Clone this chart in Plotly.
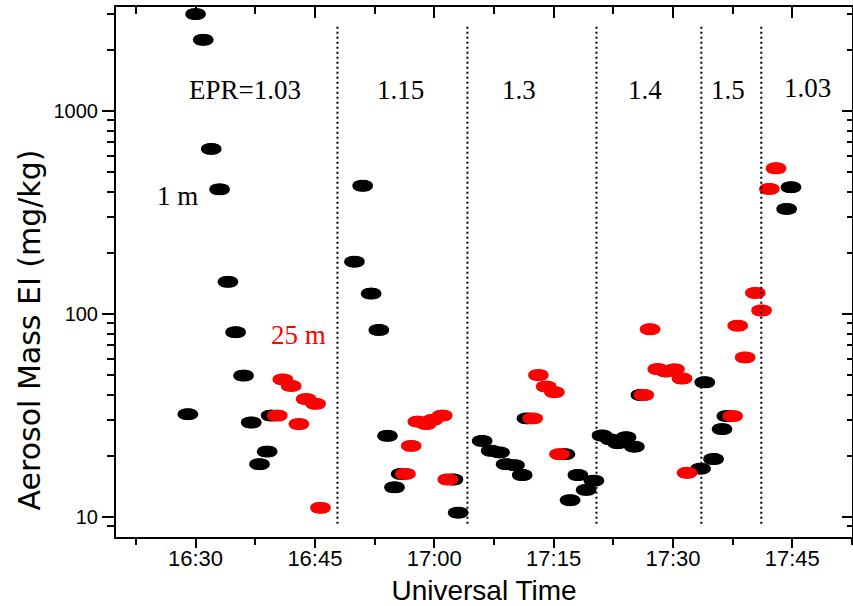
import math
import pandas as pd
import plotly.graph_objects as go

DAY = "2000-01-01 "

# ---- data ----
black_time = ["16:29:02", "16:30:00", "16:30:58", "16:31:58", "16:33:01", "16:34:04",
              "16:35:02", "16:36:02", "16:37:00", "16:38:02", "16:39:00", "16:39:30",
              "16:49:58", "16:51:00", "16:52:04", "16:53:02", "16:54:07", "16:55:00",
              "16:55:50", "17:02:21", "17:03:00",
              "17:06:01", "17:07:09", "17:08:12", "17:09:02", "17:10:05", "17:11:03",
              "17:11:39", "17:16:25", "17:17:04", "17:18:03", "17:19:05", "17:20:04",
              "17:21:05", "17:22:08", "17:23:03", "17:24:06", "17:25:09", "17:25:58",
              "17:33:28", "17:34:00", "17:35:06", "17:36:10", "17:36:46",
              "17:44:17", "17:44:50"]
black_value = [32.1, 3000, 2240, 650, 411, 144,
               81.3, 49.7, 29.2, 18.2, 21.0, 31.6,
               181, 428, 126, 83.4, 25.1, 14.0,
               16.3, 15.3, 10.5,
               23.7, 21.2, 20.8, 18.2, 18.0, 16.1,
               30.6, 20.4, 12.1, 16.1, 13.6, 15.1,
               25.2, 24.1, 23.1, 24.7, 22.2, 39.9,
               17.3, 46.1, 19.3, 27.1, 31.4,
               329, 421]

red_time = ["16:40:16", "16:40:58", "16:42:01", "16:42:59", "16:43:54", "16:45:05", "16:45:42",
            "16:56:23", "16:57:06", "16:57:56", "16:58:59", "16:59:49", "17:01:00", "17:01:42",
            "17:12:22", "17:13:05", "17:14:04", "17:15:06", "17:15:44",
            "17:26:20", "17:27:07", "17:28:05", "17:29:08", "17:30:11", "17:31:08", "17:31:46",
            "17:37:30", "17:38:08", "17:39:04", "17:40:21", "17:41:08", "17:42:07", "17:42:57"]
red_value = [31.6, 47.6, 44.2, 28.7, 38.1, 36.1, 11.1,
             16.3, 22.4, 29.5, 28.7, 30.1, 31.6, 15.3,
             30.6, 50.0, 43.9, 41.2, 20.4,
             39.9, 84.1, 53.5, 52.0, 53.4, 48.1, 16.5,
             31.4, 87.6, 61.1, 127, 104, 413, 522]

epr_boundaries = ["16:47:50", "17:04:10", "17:20:23", "17:33:34", "17:41:06"]
boundary_span = [9.25, 2620]
epr_labels = ["EPR=1.03", "1.15", "1.3", "1.4", "1.5", "1.03"]
height_labels = ["1 m", "25 m"]

x_range = [DAY + "16:20:00", DAY + "17:52:30"]
y_range_values = [7.97, 3250]
major_y = [10, 100, 1000]
minor_y = [9, 20, 30, 40, 50, 60, 70, 80, 90, 200, 300, 400, 500, 600, 700, 800, 900, 2000, 3000]

# ---- figure ----
yr = [math.log10(v) for v in y_range_values]


def ts(lst):
    return pd.to_datetime([DAY + t for t in lst])


fig = go.Figure()
# each elliptic marker is built from overlapping circles shifted along time
ellipse_parts = [(0, 12), (-15, 11.8), (15, 11.8), (-30, 11), (30, 11),
                 (-44, 9), (44, 9)]
for times, values, color in [(black_time, black_value, "#000000"),
                             (red_time, red_value, "#ff0000")]:
    base = ts(times)
    for sec, size in ellipse_parts:
        fig.add_trace(go.Scatter(
            x=base + pd.Timedelta(seconds=sec), y=values, mode="markers",
            marker=dict(symbol="circle", size=size, color=color, line=dict(width=0)),
            showlegend=False, hoverinfo="skip"))

bx, by = [], []
for b in epr_boundaries:
    bx += [DAY + b, DAY + b, None]
    by += [boundary_span[0], boundary_span[1], None]
fig.add_trace(go.Scatter(x=bx, y=by, mode="lines", xaxis="x2", yaxis="y2",
                         line=dict(color="black", width=2, dash="2px,3px"),
                         showlegend=False, hoverinfo="skip"))

sans = "Liberation Sans, Arial, sans-serif"
serif = "Liberation Serif, Times New Roman, serif"
common_x = dict(type="date", range=x_range, autorange=False, tick0=DAY + "16:30:00",
                dtick=15 * 60 * 1000, showgrid=False, zeroline=False,
                showline=True, linecolor="black", linewidth=2, tickcolor="black",
                tickwidth=2)
common_y = dict(type="log", range=yr, autorange=False, tickmode="array", tickvals=major_y,
                showgrid=False, zeroline=False, showline=True, linecolor="black",
                linewidth=2, tickcolor="black", tickwidth=2)

fig.update_layout(
    width=853, height=606,
    margin=dict(l=116, r=1, t=7, b=69),
    plot_bgcolor="white", paper_bgcolor="white",
    xaxis=dict(**common_x, ticks="outside", ticklen=9, tickformat="%H:%M",
               ticklabelstandoff=-8,
               tickfont=dict(family=sans, size=22, color="black"),
               minor=dict(dtick=450000, tick0=DAY + "16:22:30", ticks="outside",
                          ticklen=6, tickwidth=2, tickcolor="black"),
               title=dict(text="Universal Time", standoff=12,
                          font=dict(family=sans, size=28, color="black"))),
    xaxis2=dict(**common_x, overlaying="x", side="top", anchor="y", ticks="inside",
                ticklen=11, showticklabels=False,
                minor=dict(dtick=450000, tick0=DAY + "16:22:30", ticks="inside",
                           ticklen=7, tickwidth=2, tickcolor="black")),
    yaxis=dict(**common_y, ticks="outside", ticklen=12,
               tickfont=dict(family=sans, size=20, color="black"),
               ticktext=["10", "100", "1000"],
               minor=dict(tickmode="array", tickvals=minor_y, ticks="outside", ticklen=7,
                          tickwidth=2, tickcolor="black")),
    yaxis2=dict(**common_y, overlaying="y", side="right", anchor="x", ticks="inside",
                ticklen=10, showticklabels=False,
                minor=dict(tickmode="array", tickvals=minor_y, ticks="inside", ticklen=5,
                           tickwidth=2, tickcolor="black")),
)

# y-axis title (placed as rotated text like in the reference)
fig.add_annotation(text="Aerosol Mass EI (mg/kg)", textangle=-90, x=-0.118, y=0.39,
                   xref="paper", yref="paper", showarrow=False,
                   xanchor="center", yanchor="middle",
                   font=dict(family="DejaVu Sans, sans-serif", size=30, color="black"))

label_pos = [(0.1746, 0.8434), (0.3865, 0.8434), (0.5476, 0.8434),
             (0.7188, 0.8434), (0.8322, 0.8434), (0.9395, 0.8472)]
for text, (px, py) in zip(epr_labels, label_pos):
    fig.add_annotation(text=text, x=px, y=py, xref="paper", yref="paper",
                       showarrow=False, xanchor="center", yanchor="middle",
                       font=dict(family=serif, size=27, color="black"))
fig.add_annotation(text=height_labels[0], x=0.0829, y=0.6434, xref="paper", yref="paper",
                   showarrow=False, xanchor="center", yanchor="middle",
                   font=dict(family=serif, size=27, color="black"))
fig.add_annotation(text=height_labels[1], x=0.248, y=0.3811, xref="paper", yref="paper",
                   showarrow=False, xanchor="center", yanchor="middle",
                   font=dict(family=serif, size=27, color="#ff0000"))

fig.write_html("out.html", config={"displayModeBar": False},
               post_script="document.body.style.margin='0';")
